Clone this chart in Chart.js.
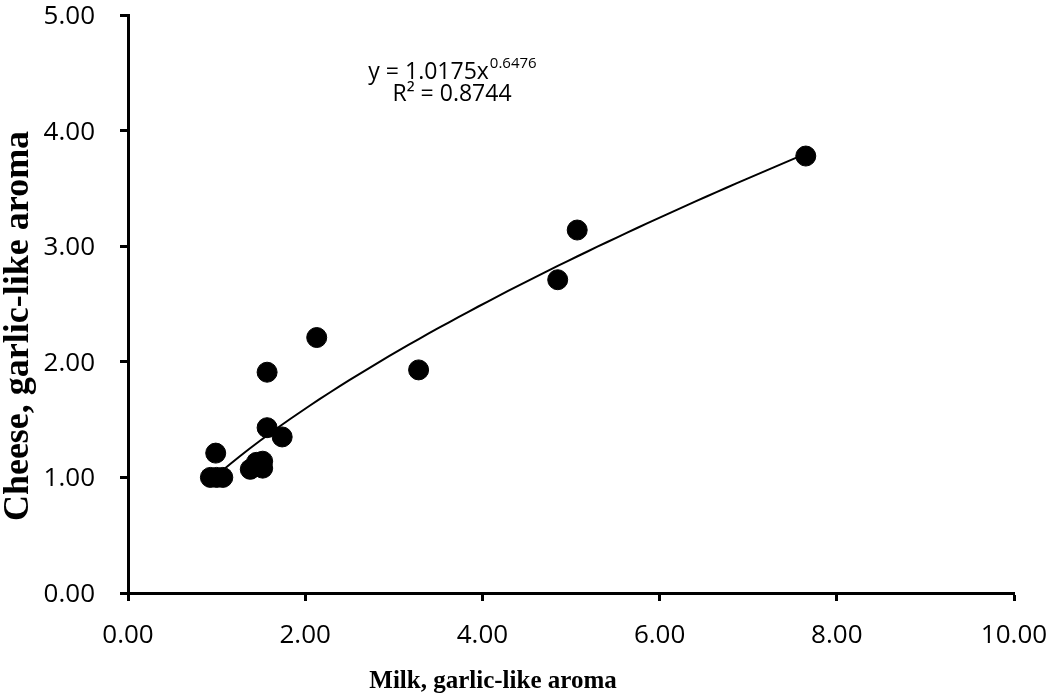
<!DOCTYPE html>
<html>
<head>
<meta charset="utf-8">
<script src="https://cdn.jsdelivr.net/npm/chart.js@4.4.1/dist/chart.umd.min.js"></script>
<style>
  html, body { margin: 0; padding: 0; background: #fff; }
  #wrap { width: 1051px; height: 694px; }
</style>
</head>
<body>
<div id="wrap"><canvas id="chart" width="1051" height="694"></canvas></div>
<script>
// Milk vs cheese garlic-like aroma scores
const milkScores   = [0.93, 1.00, 1.07, 0.99, 1.38, 1.45, 1.52, 1.52, 1.57, 1.74, 1.57, 2.13, 3.28, 4.85, 5.07, 7.65];
const cheeseScores = [1.00, 1.00, 1.00, 1.21, 1.07, 1.13, 1.08, 1.14, 1.43, 1.35, 1.91, 2.21, 1.93, 2.71, 3.14, 3.78];

// power trendline as printed on the chart
const fitCoef = 1.0175;
const fitExp  = 0.6476;
const fitR2   = 0.8744;

const xTicks = [0, 2, 4, 6, 8, 10];
const yTicks = [0, 1, 2, 3, 4, 5];

const xTitle = 'Milk, garlic-like aroma';
const yTitle = 'Cheese, garlic-like aroma';

const points = milkScores.map((x, i) => ({ x, y: cheeseScores[i] }));

// trend curve over the data range
const xMin = Math.min(...milkScores), xMax = Math.max(...milkScores);
const trend = [];
for (let i = 0; i <= 60; i++) {
  const x = xMin + (xMax - xMin) * i / 60;
  trend.push({ x, y: fitCoef * Math.pow(x, fitExp) });
}

const fmt = v => Number(v).toFixed(2);

// tick labels + axis titles, placed from the scales
const axisText = {
  id: 'axisText',
  afterDraw(chart) {
    const ctx = chart.ctx;
    const xs = chart.scales.x, ys = chart.scales.y;
    ctx.save();
    ctx.fillStyle = '#000';
    ctx.font = '26px "Open Sans"';
    ctx.textBaseline = 'alphabetic';

    ctx.textAlign = 'right';
    yTicks.forEach(v => ctx.fillText(fmt(v), 95, ys.getPixelForValue(v) + 9));

    ctx.textAlign = 'center';
    xTicks.forEach(v => ctx.fillText(fmt(v), xs.getPixelForValue(v), 643));

    ctx.font = 'bold 25px "Liberation Serif"';
    ctx.fillText(xTitle, 493, 688);

    ctx.translate(28, 326);
    ctx.rotate(-Math.PI / 2);
    ctx.font = 'bold 36px "Liberation Serif"';
    ctx.fillText(yTitle, 0, 0);
    ctx.restore();
  }
};

const eqLabel = {
  id: 'eqLabel',
  afterDatasetsDraw(chart) {
    const ctx = chart.ctx;
    ctx.save();
    ctx.fillStyle = '#000';
    ctx.textBaseline = 'alphabetic';
    ctx.font = '23px "Open Sans"';
    const base = 'y = ' + fitCoef.toFixed(4) + 'x';
    const sup = String(fitExp);
    const wBase = ctx.measureText(base).width;
    ctx.font = '15px "Open Sans"';
    const wSup = ctx.measureText(sup).width;
    const x0 = 452 - (wBase + wSup) / 2;
    ctx.font = '23px "Open Sans"';
    ctx.fillText(base, x0, 79);
    ctx.font = '15px "Open Sans"';
    ctx.fillText(sup, x0 + wBase + 1, 68);
    ctx.font = '23px "Open Sans"';
    ctx.textAlign = 'center';
    ctx.fillText('R\u00b2 = ' + fitR2.toFixed(4), 452, 101);
    ctx.restore();
  }
};

new Chart(document.getElementById('chart'), {
  type: 'scatter',
  data: {
    datasets: [
      {
        label: 'trend',
        type: 'line',
        data: trend,
        borderColor: '#000',
        borderWidth: 2,
        pointRadius: 0,
        fill: false,
        tension: 0
      },
      {
        label: 'samples',
        data: points,
        backgroundColor: '#000',
        borderColor: '#000',
        pointRadius: 10,
        pointHoverRadius: 10
      }
    ]
  },
  options: {
    responsive: false,
    animation: false,
    layout: { padding: { top: 15, right: 37, left: 0, bottom: 0 } },
    plugins: { legend: { display: false }, tooltip: { enabled: false } },
    scales: {
      x: {
        type: 'linear',
        min: 0, max: 10,
        afterBuildTicks: s => { s.ticks = xTicks.map(v => ({ value: v })); },
        afterFit: s => { s.height = 101; },
        border: { color: '#000', width: 3 },
        grid: { drawOnChartArea: false, drawTicks: true, tickLength: 8, tickWidth: 3, color: '#000' },
        ticks: { display: false }
      },
      y: {
        type: 'linear',
        min: 0, max: 5,
        afterBuildTicks: s => { s.ticks = yTicks.map(v => ({ value: v })); },
        afterFit: s => { s.width = 128; },
        border: { color: '#000', width: 3 },
        grid: { drawOnChartArea: false, drawTicks: true, tickLength: 8, tickWidth: 3, color: '#000' },
        ticks: { display: false }
      }
    }
  },
  plugins: [eqLabel, axisText]
});
</script>
</body>
</html>
